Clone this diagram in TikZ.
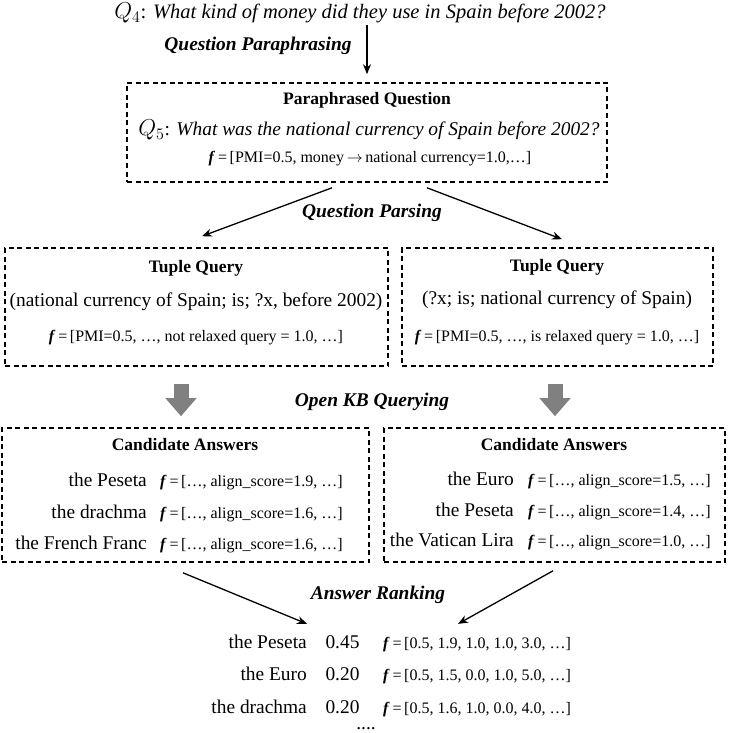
\RequirePackage{fix-cm}
\documentclass[tikz,border=0pt]{standalone}
\usepackage[no-math]{fontspec}
\setmainfont{Liberation Serif}
\usetikzlibrary{arrows.meta,calc}

\newcommand\szMain{\fontsize{19.4}{23}\selectfont}
\newcommand\szTop{\fontsize{20.5}{24}\selectfont}
\newcommand\szHead{\fontsize{17.5}{21}\selectfont}
\newcommand\szF{\fontsize{16}{19}\selectfont}
\newcommand\fvec{\textbf{\textit{f}}\,=\,}
\newcommand\bigQ[1]{{\fontsize{23}{27}\selectfont$Q_{#1}$}}

\begin{document}
\begin{tikzpicture}[x=1pt,y=-1pt,
  dbox/.style={draw, dash pattern=on 5pt off 3.5pt, line width=1.6pt, inner sep=0},
  txt/.style={inner sep=0, font=\szMain},
  head/.style={inner sep=0, font=\szHead\bfseries},
  fl/.style={inner sep=0, font=\szF},
  stage/.style={inner sep=0, font=\szMain\bfseries\itshape},
  arr/.style={line width=1.3pt, -{Stealth[length=10pt,width=8pt]}},
  garr/.style={line width=15pt, draw=black!50, -{Triangle[width=30pt,length=18pt]}},
]
\useasboundingbox (0,0) rectangle (729,733);

% top question
\node[txt, font=\szTop] (q4) at (360,13) {\bigQ{4}: \textit{What kind of money did they use in Spain before 2002?}};
\node[stage] (l1) at (258,46) {Question Paraphrasing};

% paraphrased box
\node[dbox, minimum width=480pt, minimum height=99pt] (b1) at (367,132.5) {};
\node[head] (b1h) at (367,100) {Paraphrased Question};
\node[txt] (q5) at (369,130) {\bigQ{5}: \textit{What was the national currency of Spain before 2002?}};
\node[fl] (b1f) at (370,159) {\fvec[PMI=0.5, money\,$\rightarrow$\,national currency=1.0,…]};

\draw[arr, shorten <=2pt, shorten >=8pt] (b1.north |- q4.south) -- (b1.north);

\node[stage] (l2) at (372,213) {Question Parsing};

% tuple query boxes
\node[dbox, minimum width=383pt, minimum height=118pt] (b2l) at (196.5,307) {};
\node[head] (b2lh) at (196,268) {Tuple Query};
\node[txt] (b2lt) at (196,302) {(national currency of Spain; is; ?x, before 2002)};
\node[fl] (b2lf) at (196,338) {\fvec[PMI=0.5, …, not relaxed query = 1.0, …]};

\node[dbox, minimum width=311pt, minimum height=118pt] (b2r) at (557.5,307) {};
\node[head] (b2rh) at (557,267) {Tuple Query};
\node[txt] (b2rt) at (557,300) {(?x; is; national currency of Spain)};
\node[fl] (b2rf) at (557,338) {\fvec[PMI=0.5, …, is relaxed query = 1.0, …]};

\draw[arr] ($(b1.south)+(-35,5)$) -- ($(b2l.north)+(5.5,-11)$);
\draw[arr] ($(b1.south)+(60,5)$) -- ($(b2r.north)+(4.5,-8)$);

\node[stage] (l3) at (372,402) {Open KB Querying};

% candidate boxes
\node[dbox, minimum width=367pt, minimum height=134pt] (b3l) at (185.5,495) {};
\node[head] (b3lh) at (185,445) {Candidate Answers};
\node[txt, anchor=base east] (cl1) at (147,486) {the Peseta};
\node[fl, anchor=base west] (cf1) at (160,486) {\fvec[…, align\_score=1.9, …]};
\node[txt, anchor=base east] (cl2) at (147,518) {the drachma};
\node[fl, anchor=base west] (cf2) at (160,518) {\fvec[…, align\_score=1.6, …]};
\node[txt, anchor=base east] (cl3) at (147,549) {the French Franc};
\node[fl, anchor=base west] (cf3) at (160,549) {\fvec[…, align\_score=1.6, …]};

\node[dbox, minimum width=341pt, minimum height=134pt] (b3r) at (554.5,495) {};
\node[head] (b3rh) at (554,445) {Candidate Answers};
\node[txt, anchor=base east] (cr1) at (514,485) {the Euro};
\node[fl, anchor=base west] (crf1) at (528,485) {\fvec[…, align\_score=1.5, …]};
\node[txt, anchor=base east] (cr2) at (514,516) {the Peseta};
\node[fl, anchor=base west] (crf2) at (528,516) {\fvec[…, align\_score=1.4, …]};
\node[txt, anchor=base east] (cr3) at (514,546) {the Vatican Lira};
\node[fl, anchor=base west] (crf3) at (528,546) {\fvec[…, align\_score=1.0, …]};

% gray block arrows
\coordinate (gl) at (181,0);
\coordinate (gr) at (555,0);
\draw[garr, shorten <=17pt, shorten >=11pt] (b2l.south -| gl) -- (b3l.north -| gl);
\draw[garr, shorten <=17pt, shorten >=11pt] (b2r.south -| gr) -- (b3r.north -| gr);

\node[stage] (l4) at (378,595) {Answer Ranking};

% ranking
\node[txt, anchor=base east] (r1) at (307,648) {the Peseta};
\node[txt, anchor=base] (s1) at (342.5,648) {0.45};
\node[fl, anchor=base west] (f1) at (383,648) {\fvec[0.5, 1.9, 1.0, 1.0, 3.0, …]};
\node[txt, anchor=base east] (r2) at (307,680) {the Euro};
\node[txt, anchor=base] (s2) at (342.5,680) {0.20};
\node[fl, anchor=base west] (f2) at (383,680) {\fvec[0.5, 1.5, 0.0, 1.0, 5.0, …]};
\node[txt, anchor=base east] (r3) at (307,713) {the drachma};
\node[txt, anchor=base] (s3) at (342.5,713) {0.20};
\node[fl, anchor=base west] (f3) at (383,713) {\fvec[0.5, 1.6, 1.0, 0.0, 4.0, …]};
\node[txt, anchor=base] (dots) at (366,729) {....};

\draw[arr] ($(b3l.south)+(-2.5,10)$) -- ($(s1.north)+(-35.5,-11)$);
\draw[arr] ($(b3r.south)+(-1.5,8)$) -- ($(s1.north)+(115.5,-11)$);
\end{tikzpicture}
\end{document}
